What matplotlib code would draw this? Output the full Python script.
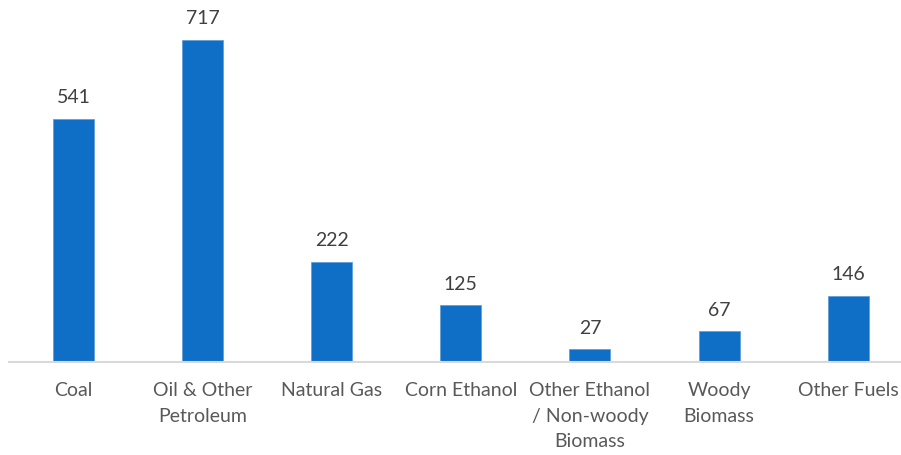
import matplotlib.pyplot as plt

categories = ["Coal", "Oil & Other\nPetroleum", "Natural Gas", "Corn Ethanol",
              "Other Ethanol\n/ Non-woody\nBiomass", "Woody\nBiomass", "Other Fuels"]
values = [541, 717, 222, 125, 27, 67, 146]

BAR_COLOR = "#0F6FC6"
LABEL_COLOR = "#595959"
VALUE_COLOR = "#404040"

plt.rcParams["font.family"] = ["Lato", "DejaVu Sans"]

fig = plt.figure(figsize=(9.01, 4.56), dpi=100)
# axes spans from x=9px to right edge, baseline at y=362.5px
ax = fig.add_axes([9 / 901, (456 - 362.5) / 456, 892 / 901, 358.7 / 456])

x = range(len(categories))
bars = ax.bar(x, values, width=0.317, color=BAR_COLOR, edgecolor="#5B9BD5", linewidth=0.5)

for xi, v in zip(x, values):
    ax.annotate(str(v), (xi, v), xytext=(0, 10), textcoords="offset points",
                ha="center", va="bottom", fontsize=14, color=VALUE_COLOR)

ax.set_xlim(-0.5, -0.5 + 892 / 129.1)
ax.set_ylim(0, 800)
ax.set_xticks(list(x))
ax.set_xticklabels(categories, fontsize=14, color=LABEL_COLOR, linespacing=1.62, va="top")
ax.tick_params(axis="x", length=0, pad=14)
ax.set_yticks([])

for s in ["top", "right", "left"]:
    ax.spines[s].set_visible(False)
ax.spines["bottom"].set_color("#D9D9D9")
ax.spines["bottom"].set_linewidth(1.5)

fig.savefig("out.png", dpi=100)
